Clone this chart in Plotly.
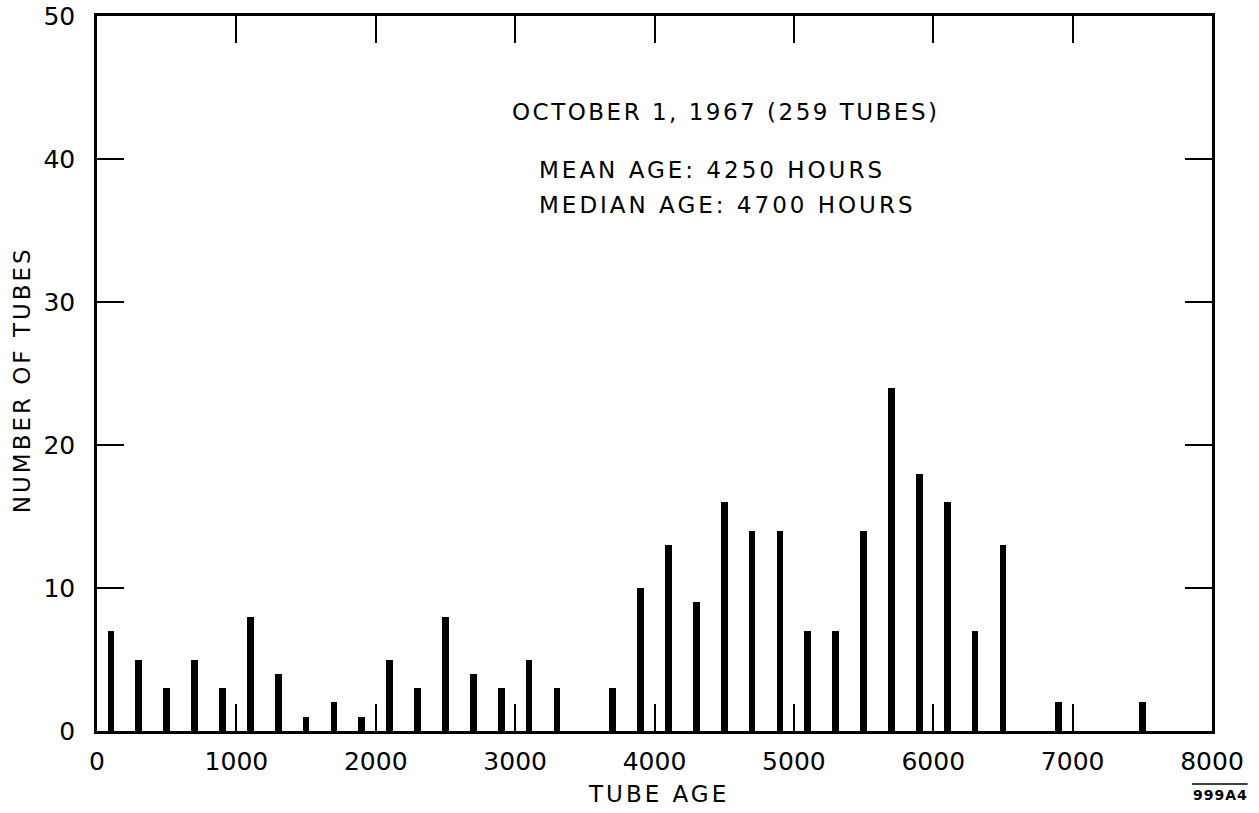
import plotly.graph_objects as go

# Tube age histogram (bin centres in hours) and tube counts per bin
tube_age = [100, 300, 500, 700, 900, 1100, 1300, 1500, 1700, 1900,
            2100, 2300, 2500, 2700, 2900, 3100, 3300, 3700, 3900, 4100,
            4300, 4500, 4700, 4900, 5100, 5300, 5500, 5700, 5900, 6100,
            6300, 6500, 6900, 7500]
num_tubes = [7, 5, 3, 5, 3, 8, 4, 1, 2, 1,
             5, 3, 8, 4, 3, 5, 3, 3, 10, 13,
             9, 16, 14, 14, 7, 7, 14, 24, 18, 16,
             7, 13, 2, 2]

x_ticks = [0, 1000, 2000, 3000, 4000, 5000, 6000, 7000, 8000]
y_ticks = [0, 10, 20, 30, 40, 50]

FONT = "DejaVu Sans"


def spaced(text, px=3):
    return f'<span style="letter-spacing:{px}px">{text}</span>'


fig = go.Figure(
    go.Bar(
        x=tube_age,
        y=num_tubes,
        width=48,
        marker=dict(color="black", line=dict(width=0)),
        hoverinfo="x+y",
    )
)

axis_common = dict(
    automargin=False,
    showgrid=False,
    zeroline=False,
    showline=True,
    linecolor="black",
    linewidth=2.5,
    mirror="allticks",
    ticks="inside",
    ticklen=27,
    tickwidth=2,
    tickcolor="black",
    tickfont=dict(family=FONT, size=25, color="black"),
)

fig.update_xaxes(range=[0, 8000], tickvals=x_ticks,
                 ticktext=[str(v) for v in x_ticks],
                 ticklabelstandoff=6, **axis_common)
fig.update_yaxes(range=[0, 50], tickvals=y_ticks,
                 ticktext=[str(v) for v in y_ticks],
                 ticklabelstandoff=14, **axis_common)

annotations = [
    dict(text=spaced("OCTOBER 1, 1967 (259 TUBES)", 2.5), x=4510, y=43.3,
         xref="x", yref="y", xanchor="center", yanchor="middle"),
    dict(text=spaced("MEAN AGE: 4250 HOURS"), x=3160, y=39.2,
         xref="x", yref="y", xanchor="left", yanchor="middle"),
    dict(text=spaced("MEDIAN AGE: 4700 HOURS"), x=3160, y=36.8,
         xref="x", yref="y", xanchor="left", yanchor="middle"),
    # axis titles
    dict(text=spaced("TUBE AGE"), x=4030, y=-0.088,
         xref="x", yref="paper", xanchor="center", yanchor="middle"),
    dict(text=spaced("NUMBER OF TUBES"), x=-0.067, y=0.491,
         xref="paper", yref="paper", xanchor="center", yanchor="middle",
         textangle=-90),
    # drawing number
    dict(text="<b>" + spaced("999A4", 1) + "</b>", x=1.0075, y=-0.09,
         xref="paper", yref="paper", xanchor="center", yanchor="middle",
         font=dict(family=FONT, size=14, color="black")),
]
for a in annotations:
    a.setdefault("font", dict(family=FONT, size=23, color="black"))
    a["showarrow"] = False

fig.update_layout(
    width=1259,
    height=813,
    margin=dict(l=97, r=47, t=16, b=82, autoexpand=False),
    paper_bgcolor="white",
    plot_bgcolor="white",
    showlegend=False,
    bargap=0,
    annotations=annotations,
    shapes=[
        dict(type="line", xref="paper", yref="paper",
             x0=0.982, x1=1.032, y0=-0.074, y1=-0.074,
             line=dict(color="black", width=1.5)),
    ],
)

fig.write_html("out.html")
